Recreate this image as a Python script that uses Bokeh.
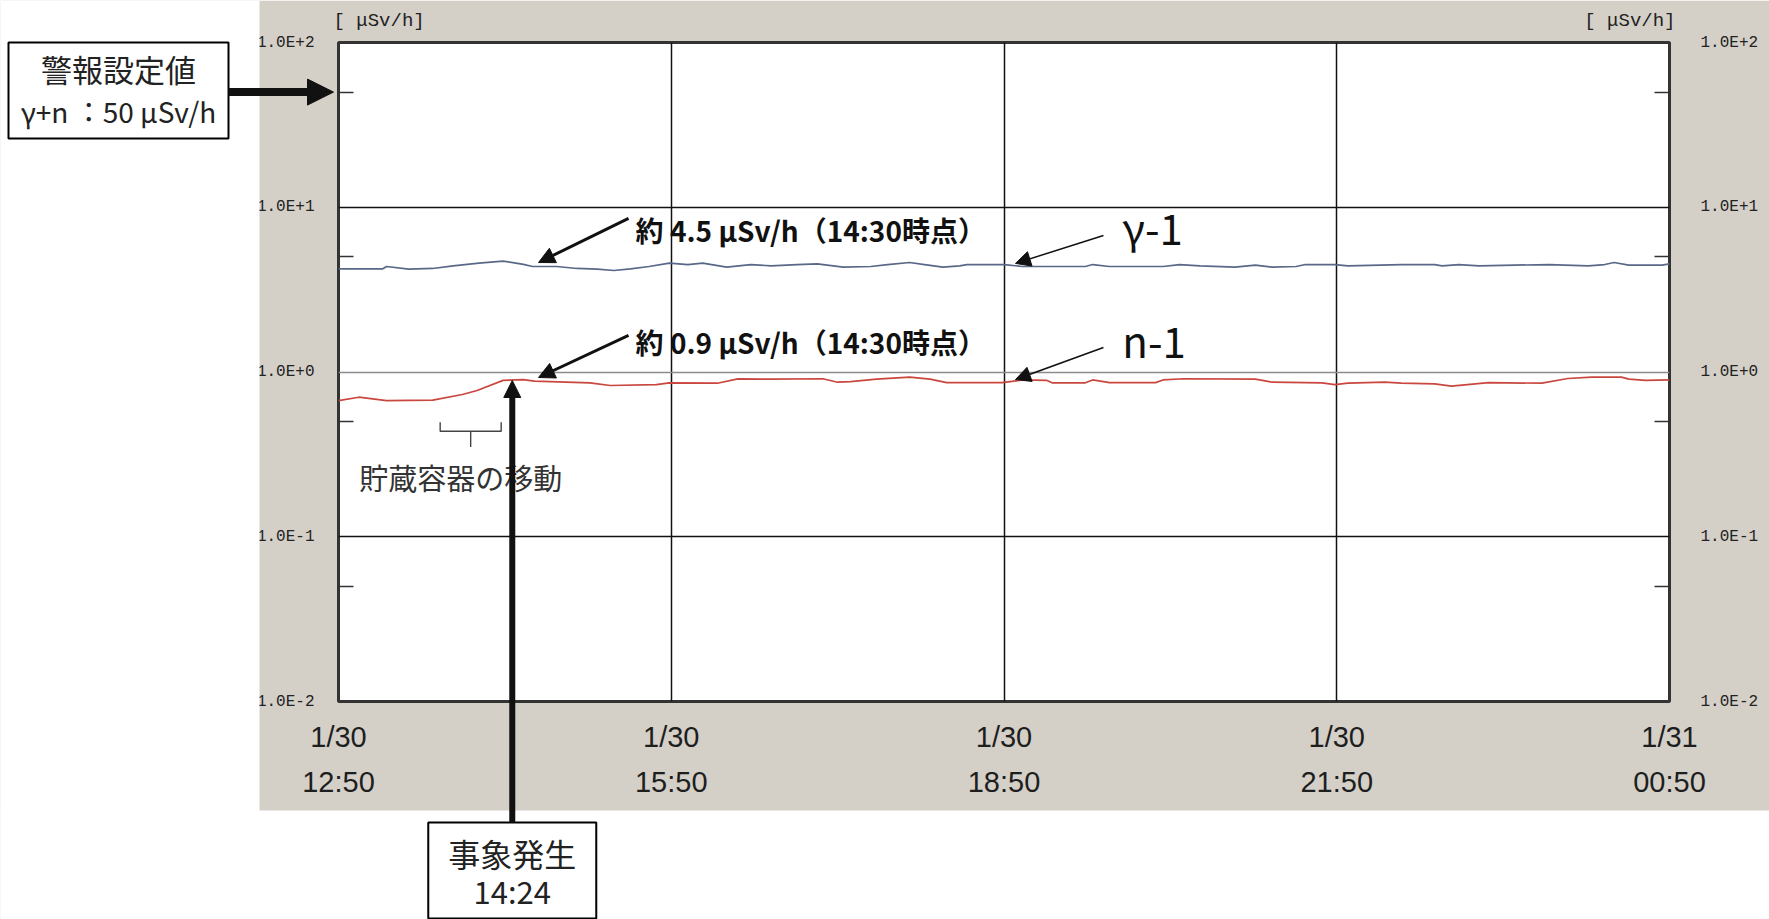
from math import log10

from bokeh.plotting import figure
from bokeh.models import (Range1d, LogScale, LogAxis, LinearAxis, FixedTicker, Grid, Plot,
                          BoxAnnotation, Label, Arrow, NormalHead)
from bokeh.embed import file_html
from bokeh.resources import INLINE

# ---- monitoring data (dose rate, μSv/h) ----
gamma_times = ["12:50", "13:14", "13:16", "13:28", "13:41", "13:52", "14:06", "14:19", "14:26",
               "14:30", "14:35", "14:48", "14:59", "15:10", "15:19", "15:28", "15:38", "15:49",
               "15:59", "16:07", "16:20", "16:33", "16:44", "16:58", "17:09", "17:23", "17:38",
               "17:47", "17:59", "18:07", "18:17", "18:26", "18:30", "18:50", "19:00", "19:34",
               "19:38", "19:47", "20:16", "20:25", "20:36", "20:55", "21:06", "21:15", "21:28",
               "21:33", "21:49", "21:56", "22:25", "22:43", "22:47", "22:56", "23:07", "23:45",
               "00:06", "00:15", "00:20", "00:28", "00:46", "00:50"]
gamma_values = [4.23, 4.23, 4.37, 4.21, 4.25, 4.41, 4.58, 4.71, 4.58,
                4.50, 4.37, 4.37, 4.25, 4.21, 4.13, 4.23, 4.37, 4.58,
                4.49, 4.58, 4.33, 4.49, 4.41, 4.49, 4.53, 4.33, 4.37,
                4.49, 4.62, 4.49, 4.33, 4.41, 4.49, 4.49, 4.37, 4.37,
                4.49, 4.37, 4.37, 4.49, 4.41, 4.33, 4.45, 4.33, 4.37,
                4.49, 4.49, 4.41, 4.49, 4.49, 4.41, 4.49, 4.41, 4.49,
                4.41, 4.49, 4.62, 4.45, 4.45, 4.53]

neutron_times = ["12:50", "13:01", "13:16", "13:41", "13:57", "14:05", "14:19", "14:30", "14:36",
                 "15:06", "15:17", "15:42", "15:49", "16:15", "16:26", "16:44", "17:12", "17:20",
                 "17:27", "17:41", "17:59", "18:10", "18:19", "18:49", "19:00", "19:13", "19:16",
                 "19:34", "19:38", "19:47", "20:12", "20:16", "20:27", "21:06", "21:15", "21:42",
                 "21:49", "21:56", "22:16", "22:25", "22:43", "22:52", "23:05", "23:12", "23:41",
                 "23:55", "00:08", "00:24", "00:28", "00:37", "00:50"]
neutron_values = [0.671, 0.703, 0.671, 0.675, 0.730, 0.772, 0.890, 0.900, 0.880,
                  0.860, 0.828, 0.839, 0.860, 0.855, 0.909, 0.905, 0.910, 0.867,
                  0.875, 0.905, 0.930, 0.905, 0.862, 0.862, 0.895, 0.890, 0.860,
                  0.860, 0.895, 0.862, 0.862, 0.895, 0.910, 0.905, 0.867, 0.860,
                  0.839, 0.855, 0.867, 0.855, 0.847, 0.820, 0.847, 0.862, 0.855,
                  0.913, 0.930, 0.930, 0.905, 0.890, 0.895]

x_tick_times = ["12:50", "15:50", "18:50", "21:50", "00:50"]
x_tick_dates = ["1/30", "1/30", "1/30", "1/30", "1/31"]
y_ticks = [0.01, 0.1, 1, 10, 100]
y_tick_labels = ["1.0E-2", "1.0E-1", "1.0E+0", "1.0E+1", "1.0E+2"]
y_minor_ticks = [0.05, 0.5, 5, 50]

alarm_level = 50            # γ+n alarm setting, μSv/h
event_time = "14:24"
event_value = 0.888
move_start, move_end = "13:45", "14:18"

START_MIN = 12 * 60 + 50
SPAN_MIN = 12 * 60


def minutes(t):
    """Minutes elapsed since 12:50 on 1/30 (wraps past midnight)."""
    h, m = map(int, t.split(":"))
    d = h * 60 + m - START_MIN
    return d + 1440 if d < 0 else d


gx = [minutes(t) for t in gamma_times]
nx = [minutes(t) for t in neutron_times]
xt = [minutes(t) for t in x_tick_times]
xt[-1] = SPAN_MIN
ev = minutes(event_time)
ms, me = minutes(move_start), minutes(move_end)

# ---- layout ----
W, H = 1769, 919
FL, FR, FT, FB = 338, 1669, 42, 701          # plot frame edges in canvas pixels
PANEL_LEFT, PANEL_BOTTOM = 259, 810          # grey instrument panel
GREY = "#d4d0c8"
INK = "#111111"
FW = FR - FL
DEC = (FB - FT) / 4                          # pixels per decade


def x_px(m):
    return FL + m / SPAN_MIN * FW


def y_px(v):
    return FT + (2 - log10(v)) * DEC


p = figure(width=W, height=H, output_backend="svg", toolbar_location=None,
           x_range=Range1d(0, SPAN_MIN), y_range=Range1d(0.01, 100),
           x_axis_location=None, y_axis_location=None,
           min_border_left=FL, min_border_right=W - FR,
           min_border_top=FT, min_border_bottom=H - FB,
           border_fill_color=GREY, background_fill_color="white",
           outline_line_color="#333333", outline_line_width=3,
           styles={"position": "absolute", "left": "0px", "top": "0px"})
p.y_scale = LogScale()
p.grid.visible = False


# ---- axes ----
def y_axis(standoff):
    return LogAxis(ticker=FixedTicker(ticks=y_ticks, minor_ticks=y_minor_ticks),
                   major_label_overrides=dict(zip(y_ticks, y_tick_labels)),
                   axis_line_color=None, major_tick_line_color=None,
                   minor_tick_in=15, minor_tick_out=0,
                   minor_tick_line_color="#333333", minor_tick_line_width=1.5,
                   major_label_standoff=standoff,
                   major_label_text_font="Liberation Mono",
                   major_label_text_font_size="16px",
                   major_label_text_color="#222222")


p.add_layout(y_axis(18), "left")
p.add_layout(y_axis(25), "right")


def x_axis(labels, standoff):
    return LinearAxis(ticker=FixedTicker(ticks=xt, minor_ticks=[]),
                      major_label_overrides=dict(zip(xt, labels)),
                      axis_line_color=None, major_tick_line_color=None,
                      minor_tick_line_color=None,
                      major_label_standoff=standoff,
                      major_label_text_font="Liberation Sans",
                      major_label_text_font_size="29px",
                      major_label_text_color="#1e1e1e")


p.add_layout(x_axis(x_tick_dates, 13), "below")
p.add_layout(x_axis(x_tick_times, 4), "below")

# ---- grid ----
p.add_layout(Grid(dimension=0, ticker=FixedTicker(ticks=xt[1:-1]),
                  grid_line_color=INK, grid_line_width=1.5))
p.add_layout(Grid(dimension=1, ticker=FixedTicker(ticks=[0.1, 10]),
                  grid_line_color=INK, grid_line_width=1.5))
p.add_layout(Grid(dimension=1, ticker=FixedTicker(ticks=[1]),
                  grid_line_color="#8c8c8c", grid_line_width=1.5))

# ---- series ----
p.line(gx, gamma_values, line_color="#5a6888", line_width=1.7)
p.line(nx, neutron_values, line_color="#c9473f", line_width=1.7)

# ---- storage container movement brace ----
mid = (ms + me) / 2
p.line([ms, ms, me, me], [0.496, 0.437, 0.437, 0.496], line_color="#444444", line_width=1.4)
p.line([mid, mid], [0.437, 0.35], line_color="#444444", line_width=1.4)
p.add_layout(Label(x=mid, y=0.229, x_offset=-10, text="貯蔵容器の移動",
                   text_font="Noto Sans CJK JP", text_font_size="29px",
                   text_align="center", text_baseline="middle", text_color="#333333"))

# ---- reading annotations ----
for txt, ty, (sx, sy), (exv, eyv) in [
        ("約 4.5  μSv/h（14:30時点）", 7.3, (156.9, 8.55), (108.2, 4.62)),
        ("約 0.9  μSv/h（14:30時点）", 1.53, (156.9, 1.666), (108.2, 0.926))]:
    p.add_layout(Label(x=160.7, y=ty, text=txt, text_font="Noto Sans CJK JP",
                       text_font_style="bold", text_font_size="28px",
                       text_align="left", text_baseline="middle", text_color=INK))
    p.add_layout(Arrow(x_start=sx, y_start=sy, x_end=exv, y_end=eyv,
                       line_color=INK, line_width=3,
                       end=NormalHead(size=16, fill_color=INK, line_color=INK)))

for txt, ty, (sx, sy), (exv, eyv) in [
        ("γ-1", 7.6, (413.8, 6.74), (366.2, 4.56)),
        ("n-1", 1.58, (413.8, 1.408), (366.2, 0.90))]:
    p.add_layout(Label(x=424, y=ty, text=txt, text_font="Noto Sans CJK JP",
                       text_font_size="42px", text_align="left", text_baseline="middle",
                       text_color=INK))
    p.add_layout(Arrow(x_start=sx, y_start=sy, x_end=exv, y_end=eyv,
                       line_color=INK, line_width=1.5,
                       end=NormalHead(size=15, fill_color=INK, line_color=INK)))

# ---- page layer: callouts that sit outside the plot frame (canvas pixels) ----
ov = Plot(width=W, height=H, x_range=Range1d(0, W), y_range=Range1d(H, 0),
          min_border=0, toolbar_location=None, title=None,
          outline_line_color=None, border_fill_color=None, background_fill_color=None,
          output_backend="svg",
          styles={"position": "absolute", "left": "0px", "top": "0px"})

# white page around the grey panel
for l, r, t, b in [(0, PANEL_LEFT, 0, H), (0, W, PANEL_BOTTOM, H)]:
    ov.add_layout(BoxAnnotation(left=l, right=r, top=t, bottom=b,
                                fill_color="white", fill_alpha=1, line_color=None))

# unit captions
ov.add_layout(Label(x=FL - 5, y=20, text="[ μSv/h]", text_font="Liberation Mono",
                    text_font_size="19px", text_align="left", text_baseline="middle",
                    text_color="#222222"))
ov.add_layout(Label(x=FR + 6, y=20, text="[ μSv/h]", text_font="Liberation Mono",
                    text_font_size="19px", text_align="right", text_baseline="middle",
                    text_color="#222222"))

# alarm setting callout
ov.add_layout(BoxAnnotation(left=8, right=228, top=42, bottom=138,
                            fill_color="white", fill_alpha=1,
                            line_color="#000000", line_alpha=1, line_width=2))
for txt, yy, fs in [("警報設定値", 68, "31px"), ("γ+n ：50 μSv/h", 110, "28px")]:
    ov.add_layout(Label(x=118, y=yy, text=txt, text_font="Noto Sans CJK JP",
                        text_font_size=fs, text_align="center", text_baseline="middle",
                        text_color="#222222"))
ya = y_px(alarm_level)
ov.add_layout(Arrow(x_start=228, y_start=ya, x_end=FL - 5, y_end=ya,
                    line_color=INK, line_width=8,
                    end=NormalHead(size=26, fill_color=INK, line_color=INK)))

# event callout
ex = x_px(ev)
ov.add_layout(BoxAnnotation(left=ex - 84, right=ex + 84, top=822, bottom=918,
                            fill_color="white", fill_alpha=1,
                            line_color="#000000", line_alpha=1, line_width=2))
for txt, yy, fs in [("事象発生", 852, "32px"), (event_time, 890, "31px")]:
    ov.add_layout(Label(x=ex, y=yy, text=txt, text_font="Noto Sans CJK JP",
                        text_font_size=fs, text_align="center", text_baseline="middle",
                        text_color="#222222"))
ov.add_layout(Arrow(x_start=ex, y_start=822, x_end=ex, y_end=y_px(event_value),
                    line_color=INK, line_width=6,
                    end=NormalHead(size=17, fill_color=INK, line_color=INK)))

open("out.html", "w").write(file_html([p, ov], INLINE))
